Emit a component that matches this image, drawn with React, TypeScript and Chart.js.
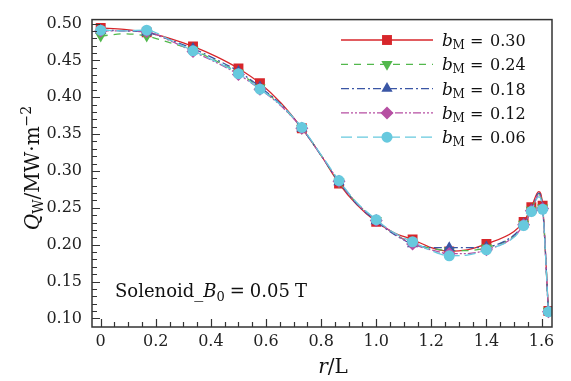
import React, { useEffect, useRef } from 'react';
import { Chart, registerables } from 'chart.js';

Chart.register(...registerables);

// ---- data -----------------------------------------------------------------
const R_L = [0, 0.085, 0.167, 0.25, 0.335, 0.42, 0.5, 0.578, 0.655, 0.73, 0.8, 0.865, 0.93, 1.0, 1.065, 1.132, 1.2, 1.265, 1.33, 1.4, 1.5, 1.535, 1.563, 1.59, 1.604, 1.625];
const MARKED = [1, 0, 1, 0, 1, 0, 1, 1, 0, 1, 0, 1, 0, 1, 0, 1, 0, 1, 0, 1, 0, 1, 1, 0, 1, 1];

const Q_B030 = [0.494, 0.492, 0.488, 0.480, 0.469, 0.455, 0.439, 0.419, 0.392, 0.358, 0.321, 0.283, 0.254, 0.231, 0.216, 0.207, 0.196, 0.191, 0.193, 0.201, 0.218, 0.231, 0.251, 0.272, 0.253, 0.110];
const Q_B024 = [0.483, 0.486, 0.483, 0.474, 0.464, 0.449, 0.433, 0.413, 0.389, 0.358, 0.321, 0.285, 0.256, 0.233, 0.215, 0.202, 0.195, 0.192, 0.192, 0.196, 0.212, 0.228, 0.247, 0.268, 0.250, 0.110];
const Q_B018 = [0.491, 0.490, 0.488, 0.478, 0.466, 0.451, 0.435, 0.414, 0.390, 0.358, 0.321, 0.285, 0.255, 0.232, 0.214, 0.201, 0.196, 0.196, 0.196, 0.197, 0.213, 0.228, 0.247, 0.270, 0.250, 0.110];
const Q_B012 = [0.490, 0.490, 0.489, 0.477, 0.462, 0.447, 0.431, 0.411, 0.388, 0.358, 0.321, 0.286, 0.256, 0.233, 0.215, 0.201, 0.193, 0.188, 0.188, 0.193, 0.211, 0.227, 0.246, 0.267, 0.249, 0.109];
const Q_B006 = [0.491, 0.490, 0.491, 0.478, 0.463, 0.448, 0.432, 0.411, 0.389, 0.359, 0.322, 0.287, 0.257, 0.234, 0.216, 0.204, 0.192, 0.185, 0.186, 0.193, 0.210, 0.226, 0.245, 0.265, 0.248, 0.109];

const SERIES = [Q_B030, Q_B024, Q_B018, Q_B012, Q_B006];
const SERIES_LABELS = ['0.30', '0.24', '0.18', '0.12', '0.06'];

const X_TICKS = [0, 0.2, 0.4, 0.6, 0.8, 1.0, 1.2, 1.4, 1.6];
const X_TICK_LABELS = ['0', '0.2', '0.4', '0.6', '0.8', '1.0', '1.2', '1.4', '1.6'];
const Y_TICKS = [0.1, 0.15, 0.2, 0.25, 0.3, 0.35, 0.4, 0.45, 0.5];
const Y_TICK_LABELS = ['0.10', '0.15', '0.20', '0.25', '0.30', '0.35', '0.40', '0.45', '0.50'];

const X_MIN = -0.0316;
const X_MAX = 1.638;
const Y_MIN = 0.0884;
const Y_MAX = 0.5053;

// ---- styles ---------------------------------------------------------------
const FONT = 'DejaVu Serif';
const STYLES = [
  { color: '#d7262b', dash: [] as number[], pointStyle: 'rect', radius: 7, rotation: 0 },
  { color: '#52b84c', dash: [7, 6], pointStyle: 'triangle', radius: 6.5, rotation: 180 },
  { color: '#3a56a5', dash: [8, 3, 2, 3], pointStyle: 'triangle', radius: 6.5, rotation: 0 },
  { color: '#b64fa2', dash: [8, 2, 2, 2, 2, 2], pointStyle: 'rectRot', radius: 6.5, rotation: 0 },
  { color: '#67c9de', dash: [11, 5], pointStyle: 'circle', radius: 5.5, rotation: 0 },
];

type Run = { t: string; f: string; dy?: number; gap?: number };

function runsWidth(ctx: CanvasRenderingContext2D, runs: Run[]) {
  let w = 0;
  for (const r of runs) {
    ctx.font = r.f;
    w += ctx.measureText(r.t).width + (r.gap || 0);
  }
  return w;
}

function drawRuns(ctx: CanvasRenderingContext2D, runs: Run[], x: number, y: number) {
  let cx = x;
  for (const r of runs) {
    ctx.font = r.f;
    ctx.fillText(r.t, cx, y + (r.dy || 0));
    cx += ctx.measureText(r.t).width + (r.gap || 0);
  }
}

function drawMarker(ctx: CanvasRenderingContext2D, style: string, r: number, rotation: number, x: number, y: number) {
  const rad = (rotation * Math.PI) / 180;
  ctx.beginPath();
  if (style === 'rect') {
    const s = Math.SQRT1_2 * r;
    ctx.rect(x - s, y - s, 2 * s, 2 * s);
  } else if (style === 'rectRot') {
    ctx.moveTo(x, y - r);
    ctx.lineTo(x + r, y);
    ctx.lineTo(x, y + r);
    ctx.lineTo(x - r, y);
    ctx.closePath();
  } else if (style === 'triangle') {
    let a = rad;
    ctx.moveTo(x + Math.sin(a) * r, y - Math.cos(a) * r);
    a += (2 * Math.PI) / 3;
    ctx.lineTo(x + Math.sin(a) * r, y - Math.cos(a) * r);
    a += (2 * Math.PI) / 3;
    ctx.lineTo(x + Math.sin(a) * r, y - Math.cos(a) * r);
    ctx.closePath();
  } else {
    ctx.arc(x, y, r, 0, Math.PI * 2);
  }
  ctx.fill();
}

const decorPlugin = {
  id: 'decor',
  afterDraw(chart: any) {
    const ctx: CanvasRenderingContext2D = chart.ctx;
    const { left, right, top, bottom } = chart.chartArea;
    const xs = chart.scales.x;
    const ys = chart.scales.y;
    ctx.save();

    // frame
    ctx.strokeStyle = '#333';
    ctx.lineWidth = 1.5;
    ctx.setLineDash([]);
    ctx.strokeRect(left, top, right - left, bottom - top);

    // inward ticks
    ctx.lineWidth = 1.2;
    ctx.beginPath();
    for (let i = 0; i <= 32; i++) {
      const px = Math.round(xs.getPixelForValue(i * 0.05)) + 0.5;
      const len = i % 4 === 0 ? 8 : 5;
      ctx.moveTo(px, bottom);
      ctx.lineTo(px, bottom - len);
    }
    for (let i = 10; i <= 50; i++) {
      const py = Math.round(ys.getPixelForValue(i / 100)) + 0.5;
      const len = i % 5 === 0 ? 8 : 5;
      ctx.moveTo(left, py);
      ctx.lineTo(left + len, py);
    }
    ctx.stroke();

    // legend
    ctx.fillStyle = '#111';
    ctx.textBaseline = 'alphabetic';
    const lx0 = 341, lx1 = 433, mx = 387, tx = 442;
    STYLES.forEach((st, i) => {
      const y = 40 + i * 24.3;
      ctx.strokeStyle = st.color;
      ctx.lineWidth = 1.3;
      ctx.setLineDash(st.dash);
      ctx.beginPath();
      ctx.moveTo(lx0, y);
      ctx.lineTo(lx1, y);
      ctx.stroke();
      ctx.setLineDash([]);
      ctx.fillStyle = st.color;
      drawMarker(ctx, st.pointStyle, st.radius, st.rotation, mx, y);
      ctx.fillStyle = '#111';
      ctx.font = `italic 17px ${FONT}`;
      ctx.fillText('b', tx, y + 6);
      ctx.font = `12px ${FONT}`;
      ctx.fillText('M', tx + 10.5, y + 9);
      ctx.font = `16px ${FONT}`;
      ctx.fillText('=', tx + 28, y + 6);
      ctx.fillText(SERIES_LABELS[i], tx + 48, y + 6);
    });

    // annotation
    const ann: Run[] = [
      { t: 'Solenoid_', f: `18px ${FONT}` },
      { t: 'B', f: `italic 18px ${FONT}` },
      { t: '0', f: `13px ${FONT}`, dy: 4, gap: 5 },
      { t: '=', f: `18px ${FONT}`, gap: 5 },
      { t: '0.05', f: `18px ${FONT}`, gap: 5 },
      { t: 'T', f: `18px ${FONT}` },
    ];
    drawRuns(ctx, ann, 115, 297);

    // x title
    const xt: Run[] = [
      { t: 'r', f: `italic 20px ${FONT}` },
      { t: '/L', f: `20px ${FONT}` },
    ];
    const xw = runsWidth(ctx, xt);
    drawRuns(ctx, xt, 333 - xw / 2, 373);

    // y title
    const yt: Run[] = [
      { t: 'Q', f: `italic 20px ${FONT}` },
      { t: 'W', f: `14px ${FONT}`, dy: 4 },
      { t: '/MW\u00b7m', f: `20px ${FONT}` },
      { t: '\u22122', f: `14px ${FONT}`, dy: -8 },
    ];
    const yw = runsWidth(ctx, yt);
    ctx.translate(39, 168);
    ctx.rotate(-Math.PI / 2);
    drawRuns(ctx, yt, -yw / 2, 0);

    ctx.restore();
  },
};

export default function App() {
  const ref = useRef<HTMLCanvasElement>(null);
  useEffect(() => {
    document.body.style.margin = '0';
    const canvas = ref.current!;
    const datasets = SERIES.map((vals, i) => {
      const st = STYLES[i];
      return {
        label: 'b_M = ' + SERIES_LABELS[i],
        data: R_L.map((x, j) => ({ x, y: vals[j] })),
        borderColor: st.color,
        backgroundColor: st.color,
        borderWidth: 1.3,
        borderDash: st.dash,
        pointStyle: st.pointStyle,
        pointRotation: st.rotation,
        pointRadius: MARKED.map((m) => (m ? st.radius : 0)),
        pointHoverRadius: 0,
        pointBorderWidth: 0,
        cubicInterpolationMode: 'monotone',
        order: 4 - i,
      };
    });
    const chart = new Chart(canvas, {
      type: 'line',
      data: { datasets } as any,
      options: {
        animation: false,
        responsive: false,
        devicePixelRatio: 1,
        layout: { padding: { left: 0, right: 19, top: 13, bottom: 0 } },
        plugins: { legend: { display: false }, tooltip: { enabled: false } },
        events: [],
        scales: {
          x: {
            type: 'linear',
            min: X_MIN,
            max: X_MAX,
            grid: { display: false, drawTicks: false },
            border: { display: false },
            ticks: {
              color: '#222',
              font: { family: FONT, size: 16 },
              padding: 5,
              maxRotation: 0,
              autoSkip: false,
              callback: (_v: any, idx: number) => X_TICK_LABELS[idx],
            },
            afterBuildTicks: (s: any) => {
              s.ticks = X_TICKS.map((v) => ({ value: v }));
            },
            afterFit: (s: any) => {
              s.height = 54;
            },
          },
          y: {
            type: 'linear',
            min: Y_MIN,
            max: Y_MAX,
            grid: { display: false, drawTicks: false },
            border: { display: false },
            ticks: {
              color: '#222',
              font: { family: FONT, size: 16 },
              padding: 10,
              autoSkip: false,
              callback: (_v: any, idx: number) => Y_TICK_LABELS[idx],
            },
            afterBuildTicks: (s: any) => {
              s.ticks = Y_TICKS.map((v) => ({ value: v }));
            },
            afterFit: (s: any) => {
              s.width = 92;
            },
          },
        },
      } as any,
      plugins: [decorPlugin],
    });
    return () => chart.destroy();
  }, []);
  return (
    <div style={{ position: 'absolute', left: 0, top: 0, width: 571, height: 381, background: '#fff' }}>
      <canvas ref={ref} width={571} height={381} />
    </div>
  );
}
